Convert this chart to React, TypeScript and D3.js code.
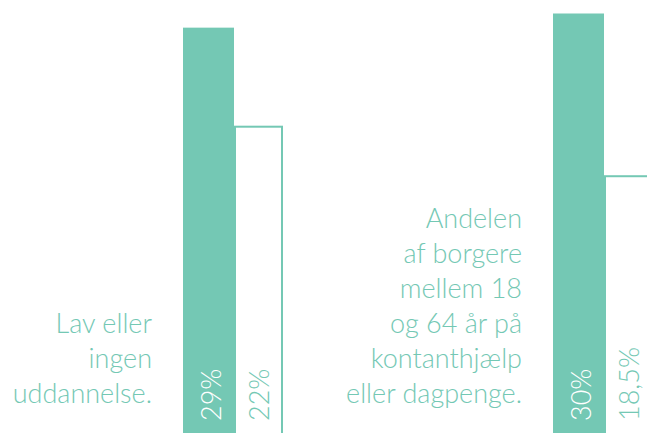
import React from "react";
import * as d3 from "d3";

const categories = ["uddannelse", "kontanthjaelp"];
const filledValues = [29, 30];
const outlineValues = [22, 18.5];
const filledLabels = ["29%", "30%"];
const outlineLabels = ["22%", "18,5%"];
const descriptions = [
  ["Lav eller", "ingen", "uddannelse."],
  ["Andelen", "af borgere", "mellem 18", "og 64 år på", "kontanthjælp", "eller dagpenge."],
];

const W = 647;
const H = 433;
const COLOR = "#74C8B4";
const FONT = "Lato, 'Open Sans', sans-serif";

export default function App() {
  const x = d3.scalePoint<string>().domain(categories).range([183, 553]);
  const y = d3.scaleLinear().domain([0, 30]).range([438, 13.5]);
  const barW = 51;
  const outW = 47;
  const lineH = 35;
  const lastBaseline = 403;

  return (
    <svg
      width={W}
      height={H}
      style={{ position: "absolute", left: 0, top: 0, background: "#fff" }}
    >
      {categories.map((c, i) => {
        const x0 = x(c)!;
        const ox = x0 + barW + 1;
        const lines = descriptions[i];
        return (
          <g key={c}>
            <rect x={x0} y={y(filledValues[i])} width={barW} height={y(0) - y(filledValues[i])} fill={COLOR} />
            <rect
              x={ox}
              y={y(outlineValues[i])}
              width={outW}
              height={y(0) - y(outlineValues[i]) + 10}
              fill="none"
              stroke={COLOR}
              strokeWidth={2}
            />
            <text
              transform={`translate(${x0 + 38},421) rotate(-90)`}
              fill="#fff"
              fontFamily={FONT}
              fontWeight={300}
              fontSize={27}
            >
              {filledLabels[i]}
            </text>
            <text
              transform={`translate(${ox + 34},421) rotate(-90)`}
              fill={COLOR}
              fontFamily={FONT}
              fontWeight={300}
              fontSize={27}
            >
              {outlineLabels[i]}
            </text>
            {lines.map((l, j) => (
              <text
                key={j}
                x={x0 - 31}
                y={lastBaseline - (lines.length - 1 - j) * lineH}
                textAnchor="end"
                fill={COLOR}
                fontFamily={FONT}
                fontWeight={300}
                fontSize={27}
              >
                {l}
              </text>
            ))}
          </g>
        );
      })}
    </svg>
  );
}
